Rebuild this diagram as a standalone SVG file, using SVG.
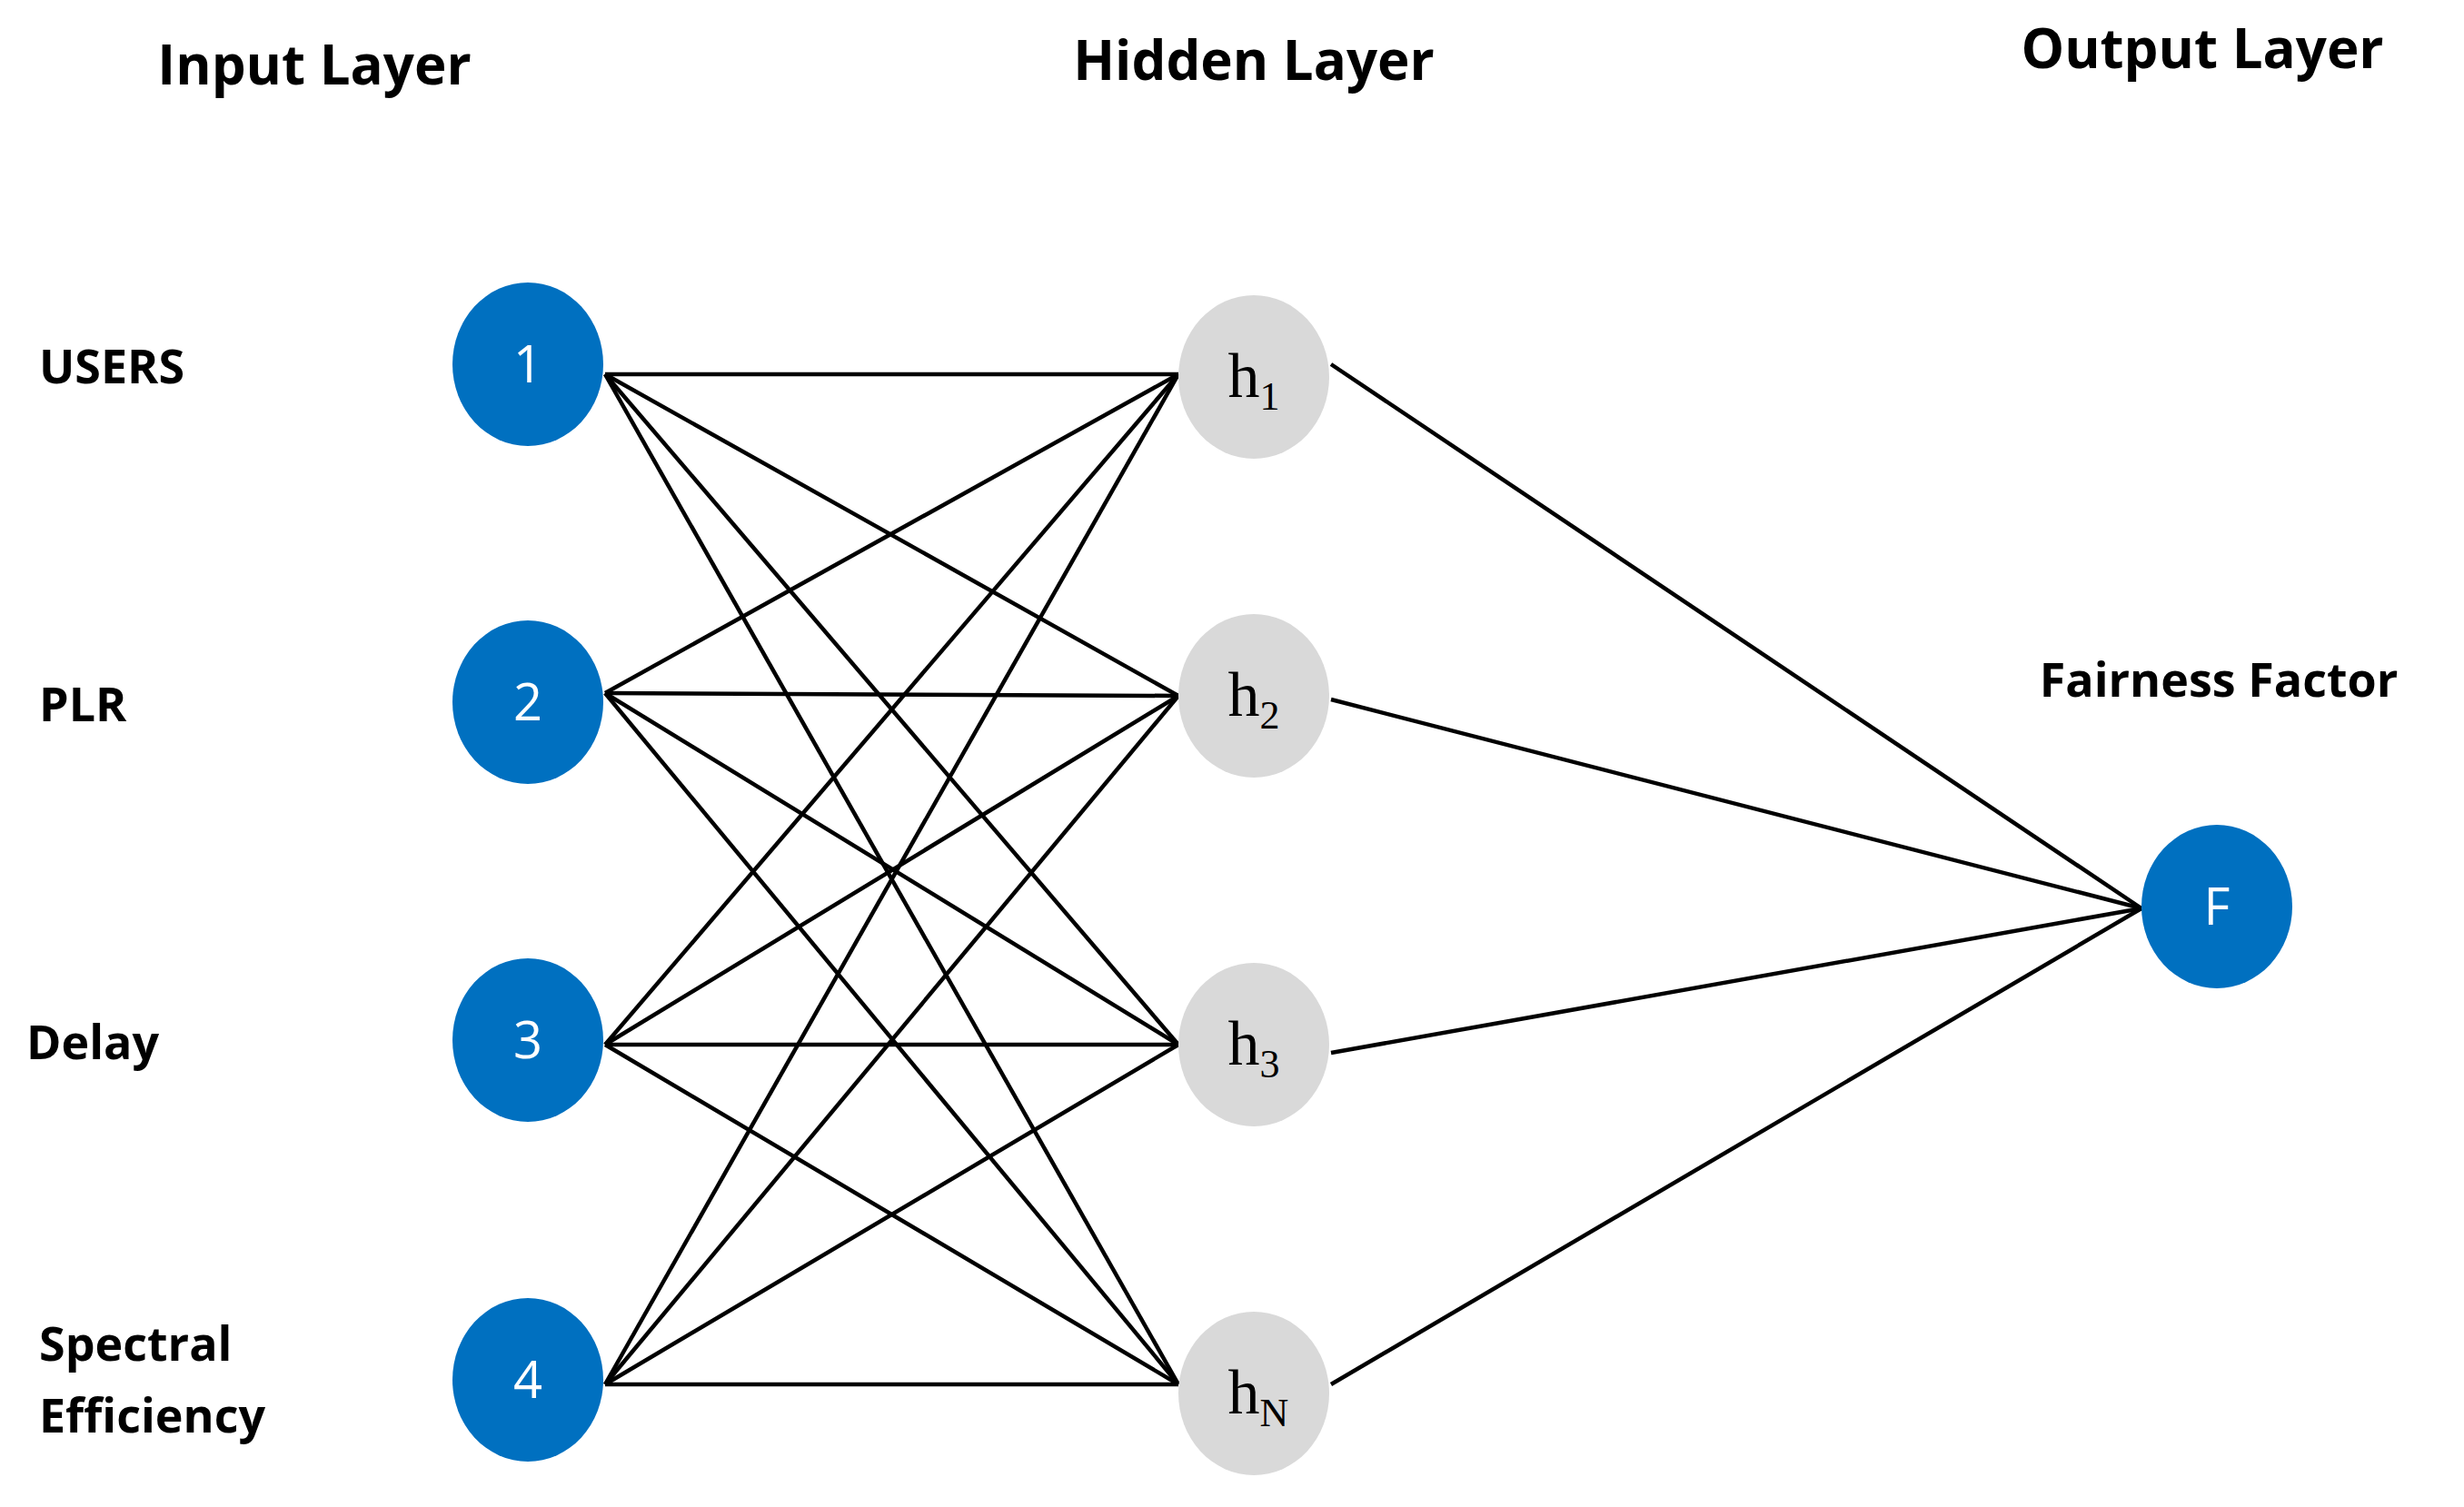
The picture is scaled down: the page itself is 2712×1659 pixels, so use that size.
<svg xmlns="http://www.w3.org/2000/svg" width="2712" height="1659" viewBox="0 0 2712 1659">
<style>
.t{font-family:"Open Sans","Liberation Sans",sans-serif;font-weight:bold;fill:#000}
.in{fill:#0070c0}
.hd{fill:#d9d9d9}
.n{font-family:"Open Sans","Liberation Sans",sans-serif;font-size:56px;fill:#fff;text-anchor:middle}
.h{font-family:"Liberation Serif",serif;font-size:70px;fill:#000;text-anchor:middle}
.s{font-size:44px}
#edges line{stroke:#000;stroke-width:4.5}
</style>
<rect width="2712" height="1659" fill="#fff"/>
<text class="t" x="346" y="93" font-size="60" text-anchor="middle">Input Layer</text>
<text class="t" x="1380" y="88" font-size="60" text-anchor="middle">Hidden Layer</text>
<text class="t" x="2424" y="75" font-size="60" text-anchor="middle">Output Layer</text>
<text class="t" x="43" y="422" font-size="52">USERS</text>
<text class="t" x="43" y="794" font-size="52">PLR</text>
<text class="t" x="29" y="1166" font-size="52">Delay</text>
<text class="t" x="43" y="1498" font-size="52">Spectral</text>
<text class="t" x="43" y="1577" font-size="52">Efficiency</text>
<text class="t" x="2442" y="767" font-size="52" text-anchor="middle">Fairness Factor</text>
<g id="edges">
<line x1="666" y1="412" x2="1297" y2="412"/><line x1="666" y1="412" x2="1297" y2="766"/><line x1="666" y1="412" x2="1297" y2="1150"/><line x1="666" y1="412" x2="1297" y2="1524"/>
<line x1="666" y1="763" x2="1297" y2="412"/><line x1="666" y1="763" x2="1297" y2="766"/><line x1="666" y1="763" x2="1297" y2="1150"/><line x1="666" y1="763" x2="1297" y2="1524"/>
<line x1="666" y1="1150" x2="1297" y2="412"/><line x1="666" y1="1150" x2="1297" y2="766"/><line x1="666" y1="1150" x2="1297" y2="1150"/><line x1="666" y1="1150" x2="1297" y2="1524"/>
<line x1="666" y1="1524" x2="1297" y2="412"/><line x1="666" y1="1524" x2="1297" y2="766"/><line x1="666" y1="1524" x2="1297" y2="1150"/><line x1="666" y1="1524" x2="1297" y2="1524"/>
<line x1="1465" y1="401" x2="2357" y2="1000"/><line x1="1465" y1="770" x2="2357" y2="1000"/><line x1="1465" y1="1159" x2="2357" y2="1000"/><line x1="1465" y1="1524" x2="2357" y2="1000"/>
</g>
<g id="in1"><ellipse class="in" cx="581" cy="401" rx="83" ry="90"/><text class="n" x="581" y="421">1</text></g>
<g id="in2"><ellipse class="in" cx="581" cy="773" rx="83" ry="90"/><text class="n" x="581" y="793">2</text></g>
<g id="in3"><ellipse class="in" cx="581" cy="1145" rx="83" ry="90"/><text class="n" x="581" y="1165">3</text></g>
<g id="in4"><ellipse class="in" cx="581" cy="1519" rx="83" ry="90"/><text class="n" x="581" y="1539">4</text></g>
<g id="h1"><ellipse class="hd" cx="1380" cy="415" rx="83" ry="90"/><text class="h" x="1380" y="437">h<tspan class="s" dy="14">1</tspan></text></g>
<g id="h2"><ellipse class="hd" cx="1380" cy="766" rx="83" ry="90"/><text class="h" x="1380" y="788">h<tspan class="s" dy="14">2</tspan></text></g>
<g id="h3"><ellipse class="hd" cx="1380" cy="1150" rx="83" ry="90"/><text class="h" x="1380" y="1172">h<tspan class="s" dy="14">3</tspan></text></g>
<g id="hN"><ellipse class="hd" cx="1380" cy="1534" rx="83" ry="90"/><text class="h" x="1385" y="1556">h<tspan class="s" dy="14">N</tspan></text></g>
<g id="F"><ellipse class="in" cx="2440" cy="998" rx="83" ry="90"/><text class="n" x="2440" y="1018">F</text></g>
</svg>
